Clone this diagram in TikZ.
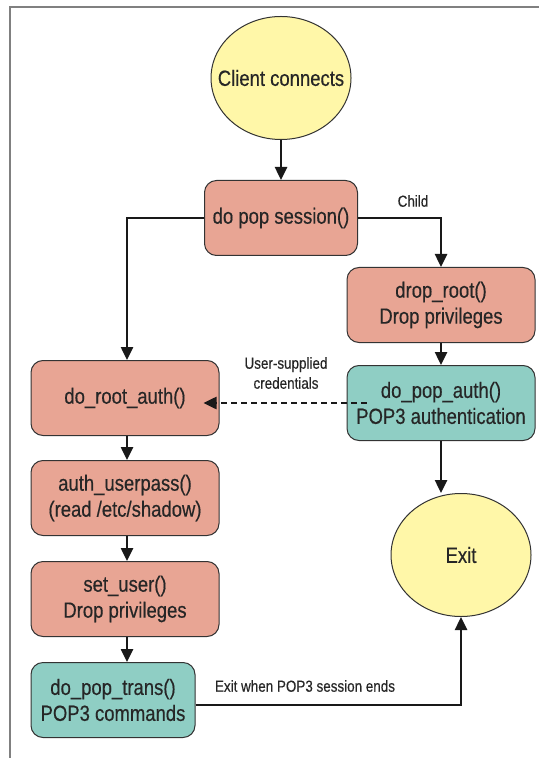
\documentclass[tikz,border=0pt]{standalone}
\usepackage{fontspec}
\setmainfont{Liberation Sans}[FakeStretch=0.84, FakeBold=0.4]
\usetikzlibrary{shapes.geometric,arrows.meta}
\definecolor{procred}{HTML}{E8A594}
\definecolor{procteal}{HTML}{8FCEC4}
\definecolor{termyellow}{HTML}{FFF7A8}
\tikzset{
  proc/.style={draw=black!80, fill=procred, rounded corners=6pt, line width=0.5pt,
    minimum width=94pt, minimum height=37.5pt, align=center,
    font=\fontsize{11}{13}\selectfont, text=black!85},
  popproc/.style={proc, fill=procteal},
  term/.style={ellipse, draw=black!80, fill=termyellow, line width=0.5pt,
    minimum width=70pt, minimum height=61.5pt, inner sep=0pt,
    font=\fontsize{11}{13}\selectfont, text=black!85},
  flow/.style={line width=1.25pt, draw=black!90, -{Triangle[length=6.5pt,width=6pt]}},
  lbl/.style={font=\fontsize{8}{10}\selectfont, align=center, text=black!85}
}

\begin{document}
\begin{tikzpicture}[x=0.5pt,y=-0.5pt]
\useasboundingbox (0,0) rectangle (539,758);
\draw[gray, line width=0.8pt] (10,758) -- (10,7) -- (539,7);
\node[term, inner xsep=-9pt] (client) at (281,78) {Client connects};
\node[proc, minimum width=76.5pt] (session) at (281,218) {do pop session()};
\node[proc] (droproot) at (441,305) {drop\_root()\\Drop privileges};
\node[popproc] (popauth) at (441,403) {do\_pop\_auth()\\POP3 authentication};
\node[proc] (rootauth) at (125,398) {do\_root\_auth()};
\node[proc] (userpass) at (125,498) {auth\_userpass()\\(read /etc/shadow)};
\node[proc] (setuser) at (125,599) {set\_user()\\Drop privileges};
\node[popproc, minimum width=82pt] (poptrans) at (113,700) {do\_pop\_trans()\\POP3 commands};
\node[term] (exit) at (461,555) {Exit};
\node[lbl] (child) at (413,201) {Child};
\node[lbl] (creds) at (286,373) {User-supplied\\credentials};
\node[lbl] (sessend) at (305,686) {Exit when POP3 session ends};
\draw[flow] (client.south) -- (session.north);
\draw[flow] (session.east) -| (droproot.north);
\draw[flow] (session.west) -| ([xshift=1pt]rootauth.north);
\draw[flow] (droproot) -- (popauth);
\draw[flow] (popauth.south) -- (popauth.south |- exit.north);
\draw[flow, dash pattern=on 3pt off 2pt] ([xshift=10pt]popauth.west |- 0,403) -- ([xshift=-8pt]rootauth.east |- 0,403);
\draw[flow] ([xshift=1pt]rootauth.south) -- ([xshift=1pt]userpass.north);
\draw[flow] ([xshift=1pt]userpass.south) -- ([xshift=1pt]setuser.north);
\draw[flow] ([xshift=1pt]setuser.south) -- ([xshift=1pt]setuser.south |- poptrans.north);
\draw[flow] ([yshift=-2.5pt]poptrans.east) -| (exit.south);
\end{tikzpicture}
\end{document}
